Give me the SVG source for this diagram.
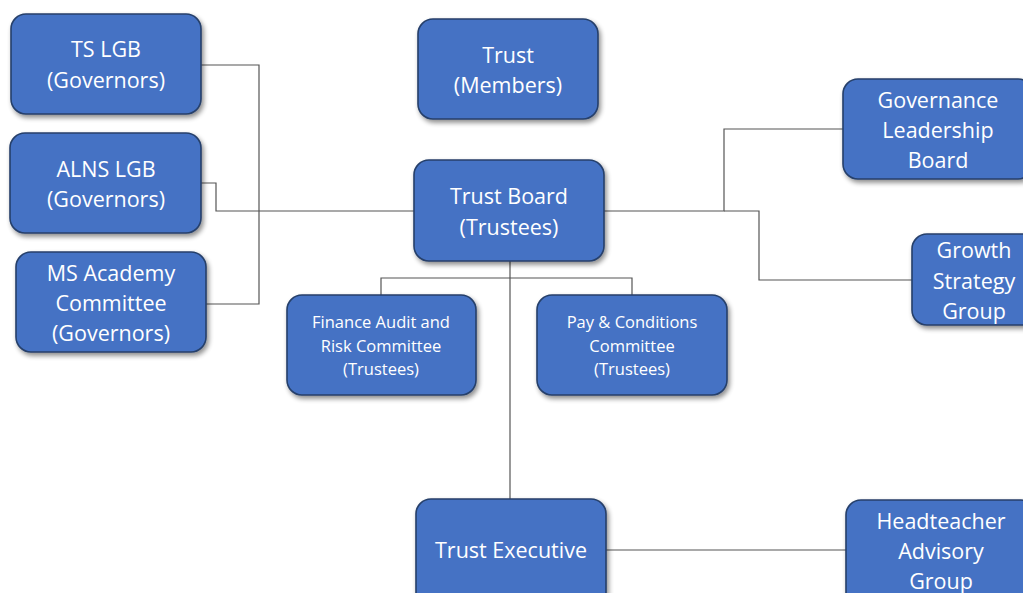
<svg xmlns="http://www.w3.org/2000/svg" width="1023" height="593" viewBox="0 0 1023 593">
<defs>
<filter id="sh" x="-20%" y="-20%" width="150%" height="150%">
<feGaussianBlur in="SourceAlpha" stdDeviation="2.5"/>
<feOffset dx="2" dy="3" result="b"/>
<feComponentTransfer><feFuncA type="linear" slope="0.45"/></feComponentTransfer>
<feMerge><feMergeNode/><feMergeNode in="SourceGraphic"/></feMerge>
</filter>
</defs>
<style>
.box{fill:#4472C4;stroke:#263F6A;stroke-width:1.6;filter:url(#sh)}
.t{font-family:"Open Sans","Noto Sans",sans-serif;font-size:21.5px;fill:#fff;text-anchor:middle}
.s{font-family:"Open Sans","Noto Sans",sans-serif;font-size:16.5px;fill:#fff;text-anchor:middle}
.c{fill:none;stroke:#555;stroke-width:1.2}
</style>
<rect width="1023" height="593" fill="#fff"/>
<g id="connectors">
<path class="c" d="M201,65 H259 V304 H206"/>
<path class="c" d="M201,183 H216 V211 H414"/>
<path class="c" d="M604,211 H724 V129 H843"/>
<path class="c" d="M724,211 H759 V280 H912"/>
<path class="c" d="M510,261 V499"/>
<path class="c" d="M381,295 V278 H632 V295"/>
<path class="c" d="M606,550 H846"/>
</g>
<g id="ts-lgb"><rect class="box" x="11" y="14" width="190" height="100" rx="15"/>
<text class="t" x="106" y="57">TS LGB</text><text class="t" x="106" y="88">(Governors)</text></g>
<g id="alns-lgb"><rect class="box" x="10" y="133" width="191" height="100" rx="15"/>
<text class="t" x="106" y="177">ALNS LGB</text><text class="t" x="106" y="207">(Governors)</text></g>
<g id="ms-academy"><rect class="box" x="16" y="252" width="190" height="100" rx="15"/>
<text class="t" x="111" y="281">MS Academy</text><text class="t" x="111" y="311">Committee</text><text class="t" x="111" y="341">(Governors)</text></g>
<g id="trust-members"><rect class="box" x="418" y="19" width="180" height="100" rx="15"/>
<text class="t" x="508" y="63">Trust</text><text class="t" x="508" y="93">(Members)</text></g>
<g id="trust-board"><rect class="box" x="414" y="160" width="190" height="101" rx="15"/>
<text class="t" x="509" y="204">Trust Board</text><text class="t" x="509" y="235">(Trustees)</text></g>
<g id="finance"><rect class="box" x="287" y="295" width="189" height="100" rx="15"/>
<text class="s" x="381" y="328">Finance Audit and</text><text class="s" x="381" y="352">Risk Committee</text><text class="s" x="381" y="375">(Trustees)</text></g>
<g id="pay"><rect class="box" x="537" y="295" width="190" height="100" rx="15"/>
<text class="s" x="632" y="328">Pay &amp; Conditions</text><text class="s" x="632" y="352">Committee</text><text class="s" x="632" y="375">(Trustees)</text></g>
<g id="governance"><rect class="box" x="843" y="79" width="190" height="100" rx="15"/>
<text class="t" x="938" y="108">Governance</text><text class="t" x="938" y="138">Leadership</text><text class="t" x="938" y="168">Board</text></g>
<g id="growth"><rect class="box" x="912" y="234" width="150" height="91" rx="15"/>
<text class="t" x="974" y="258">Growth</text><text class="t" x="974" y="289">Strategy</text><text class="t" x="974" y="319">Group</text></g>
<g id="trust-executive"><rect class="box" x="416" y="499" width="190" height="110" rx="15"/>
<text class="t" x="511" y="558">Trust Executive</text></g>
<g id="headteacher"><rect class="box" x="846" y="500" width="190" height="110" rx="15"/>
<text class="t" x="941" y="529">Headteacher</text><text class="t" x="941" y="559">Advisory</text><text class="t" x="941" y="589">Group</text></g>
</svg>
